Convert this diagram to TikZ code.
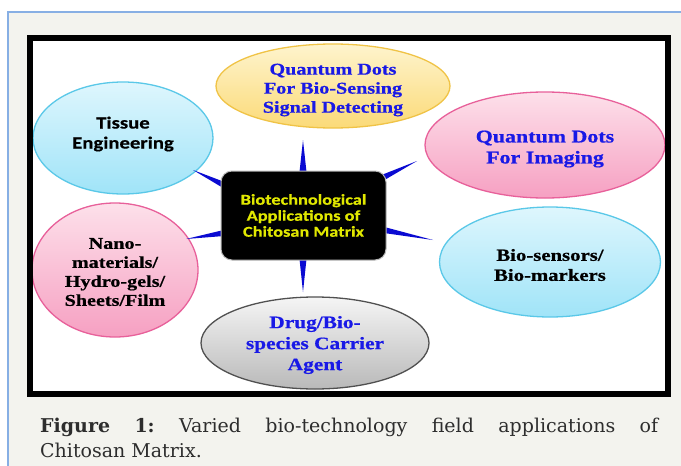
\documentclass[tikz,border=0pt]{standalone}
\usepackage{fontspec}
\usetikzlibrary{shapes.geometric,calc}
\newfontfamily\lblserif[FakeStretch=1.22, BoldFeatures={FakeBold=0.7}]{Liberation Serif}
\newfontfamily\lblsans[FakeStretch=1.22, BoldFeatures={FakeBold=0.5}]{Carlito}
\newfontfamily\capfont{DejaVu Serif}
\definecolor{pagebg}{RGB}{243,243,238}
\definecolor{pageline}{RGB}{135,175,228}
\definecolor{lblblue}{RGB}{25,25,230}
\definecolor{spikeblue}{RGB}{10,10,210}
\definecolor{centeryellow}{RGB}{225,232,0}
\definecolor{captext}{RGB}{45,45,45}
\tikzset{
  bubble/.style={ellipse, inner sep=0pt, line width=1.3pt},
  lbl/.style={align=center, inner sep=0pt},
  yellowb/.style={bubble, draw={rgb,255:red,240;green,195;blue,70}, top color={rgb,255:red,254;green,244;blue,205}, bottom color={rgb,255:red,251;green,218;blue,120}},
  blueb/.style={bubble, draw={rgb,255:red,90;green,200;blue,232}, top color={rgb,255:red,222;green,246;blue,253}, bottom color={rgb,255:red,160;green,228;blue,248}},
  pinkb/.style={bubble, draw={rgb,255:red,232;green,96;blue,154}, top color={rgb,255:red,253;green,224;blue,234}, bottom color={rgb,255:red,246;green,160;blue,194}},
  grayb/.style={bubble, draw={rgb,255:red,80;green,80;blue,80}, top color={rgb,255:red,245;green,245;blue,245}, bottom color={rgb,255:red,185;green,185;blue,185}},
  centerbox/.style={rectangle, rounded corners=11pt, fill=black, draw=gray!55, line width=1pt, inner sep=0pt, align=center, text=centeryellow},
  spike/.style={fill=spikeblue},
}
\newcommand{\spikeAB}[3]{\fill[spike] ($(#1)!#3!90:(#2)$) -- (#2) -- ($(#1)!#3!-90:(#2)$) -- cycle;}
\begin{document}
\begin{tikzpicture}[x=1pt,y=-1pt]
\useasboundingbox (0,0) rectangle (681,466);
% page
\fill[white] (0,0) rectangle (681,466);
\fill[pagebg] (8,12) rectangle (681,466);
\draw[pageline, line width=1.2pt] (8,466) -- (8,12) -- (681,12);
% figure area
\fill[white] (30,38) rectangle (668,394);

% spike end points
\coordinate (b1) at (303,172); \coordinate (t1) at (303,140);
\coordinate (b2) at (303,259); \coordinate (t2) at (303,292);
\coordinate (b3) at (224,185); \coordinate (t3) at (193,170);
\coordinate (b4) at (224,233); \coordinate (t4) at (186,239);
\coordinate (b5) at (382,178); \coordinate (t5) at (417,161);
\coordinate (b6) at (384,230); \coordinate (t6) at (433,240);

% bubbles
\node[yellowb, minimum width=234pt, minimum height=84pt,
  label={[lbl, yshift=-4pt, text=lblblue, font=\lblserif\bfseries\fontsize{16.5}{19}\selectfont]center:{Quantum Dots\\For Bio-Sensing\\Signal Detecting}}]
  (qdbs) at (333,86) {};
\node[blueb, minimum width=180pt, minimum height=112pt,
  label={[lbl, yshift=4pt, font=\lblsans\bfseries\fontsize{17}{20}\selectfont]center:{Tissue\\Engineering}}]
  (tissue) at (123,138) {};
\node[pinkb, minimum width=240pt, minimum height=106pt,
  label={[lbl, yshift=-4pt, text=lblblue, font=\lblserif\bfseries\fontsize{18}{21}\selectfont]center:{Quantum Dots\\For Imaging}}]
  (qdimg) at (545,145) {};
\node[blueb, minimum width=221pt, minimum height=110pt,
  label={[lbl, yshift=-3pt, font=\lblserif\bfseries\fontsize{17}{20}\selectfont]center:{Bio-sensors/\\Bio-markers}}]
  (bios) at (550,262) {};
\node[pinkb, minimum width=166pt, minimum height=134pt,
  label={[lbl, yshift=-2pt, font=\lblserif\bfseries\fontsize{16.5}{19}\selectfont]center:{Nano-\\materials/\\Hydro-gels/\\Sheets/Film}}]
  (nano) at (115,270) {};
\node[grayb, minimum width=228pt, minimum height=92pt,
  label={[lbl, yshift=-2pt, text=lblblue, font=\lblserif\bfseries\fontsize{17.5}{21}\selectfont]center:{Drug/Bio-\\species Carrier\\Agent}}]
  (drug) at (315,343) {};

% spikes
\spikeAB{b1}{t1}{3.5pt}
\spikeAB{b2}{t2}{3.5pt}
\spikeAB{b3}{t3}{3pt}
\spikeAB{b4}{t4}{3pt}
\spikeAB{b5}{t5}{3pt}
\spikeAB{b6}{t6}{3pt}

% centre box
\node[centerbox, minimum width=165pt, minimum height=89pt,
      font=\lblsans\bfseries\fontsize{15}{16}\selectfont] (core) at (303.5,215.5)
  {Biotechnological\\Applications of\\Chitosan Matrix};

% frame
\draw[black, line width=6.5pt] (30,38) rectangle (668,394);

% caption
\node[anchor=base west, inner sep=0pt, text=captext,
      font=\capfont\fontsize{19}{25}\selectfont\frenchspacing] (cap1) at (40,432)
  {\makebox[618pt][s]{\textbf{Figure} \textbf{1:} Varied bio-technology field applications of}};
\node[anchor=base west, inner sep=0pt, text=captext,
      font=\capfont\fontsize{19}{25}\selectfont] (cap2) at (40,457)
  {Chitosan Matrix.};
\end{tikzpicture}
\end{document}
